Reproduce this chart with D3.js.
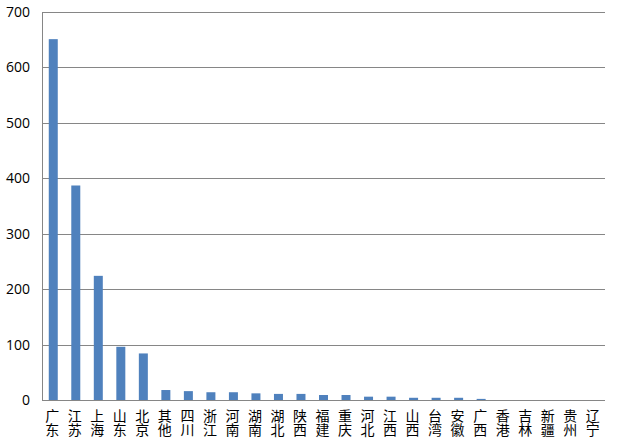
<!DOCTYPE html>
<html><head><meta charset="utf-8">
<script src="https://cdn.jsdelivr.net/npm/d3@7"></script>
<style>body{margin:0;background:#fff}svg{display:block}</style>
</head><body>
<script>
const categories = ["广东","江苏","上海","山东","北京","其他","四川","浙江","河南","湖南","湖北","陕西","福建","重庆","河北","江西","山西","台湾","安徽","广西","香港","吉林","新疆","贵州","辽宁"];
const values = [651, 387, 224, 96, 84, 18, 16, 14, 14, 12, 11, 11, 9, 9, 6, 6, 4, 4, 4, 2, 0, 0, 0, 0, 0];
const yTicks = [0, 100, 200, 300, 400, 500, 600, 700];

const W = 630, H = 444;
const m = {left: 42, right: 605, top: 12, bottom: 400};
const svg = d3.select("body").append("svg").attr("width", W).attr("height", H);

const x = d3.scaleBand().domain(categories).range([m.left, m.right]).paddingInner(0.6).paddingOuter(0.3);
const y = d3.scaleLinear().domain([0, 700]).range([m.bottom, m.top]);

// gridlines
svg.append("g").selectAll("line").data(yTicks.filter(d => d > 0)).join("line")
  .attr("x1", m.left).attr("x2", m.right)
  .attr("y1", d => Math.round(y(d)) + 0.5).attr("y2", d => Math.round(y(d)) + 0.5)
  .attr("stroke", "#868686").attr("stroke-width", 1);

// bars
svg.append("g").selectAll("rect").data(values).join("rect")
  .attr("x", (d, i) => x(categories[i]) + x.bandwidth()/2 - 4.5)
  .attr("width", 9)
  .attr("y", d => y(d))
  .attr("height", d => m.bottom - y(d))
  .attr("fill", "#4F81BD");

// axes lines
svg.append("line").attr("x1", m.left + 0.5).attr("x2", m.left + 0.5).attr("y1", m.top).attr("y2", m.bottom)
  .attr("stroke", "#868686");
svg.append("line").attr("x1", m.left).attr("x2", m.right).attr("y1", m.bottom + 0.5).attr("y2", m.bottom + 0.5)
  .attr("stroke", "#868686");

// y labels
const yAxis = d3.axisLeft(y).tickValues(yTicks).tickSize(0).tickPadding(12);
const gy = svg.append("g").attr("transform", `translate(${m.left},0)`).call(yAxis);
gy.select(".domain").remove();
gy.selectAll("text").attr("font-family", "'Open Sans', 'Liberation Sans', sans-serif").attr("font-size", 14).attr("fill", "#000");

// x labels (vertical, stacked characters)
svg.append("g").selectAll("text").data(categories).join("text")
  .attr("x", d => x(d) + x.bandwidth()/2 - 1)
  .attr("y", 409)
  .attr("text-anchor", "start")
  .style("writing-mode", "vertical-rl")
  .style("text-orientation", "upright")
  .attr("font-family", "'Noto Sans CJK SC', sans-serif")
  .attr("font-size", 14)
  .attr("fill", "#000")
  .text(d => d);
</script>
</body></html>
